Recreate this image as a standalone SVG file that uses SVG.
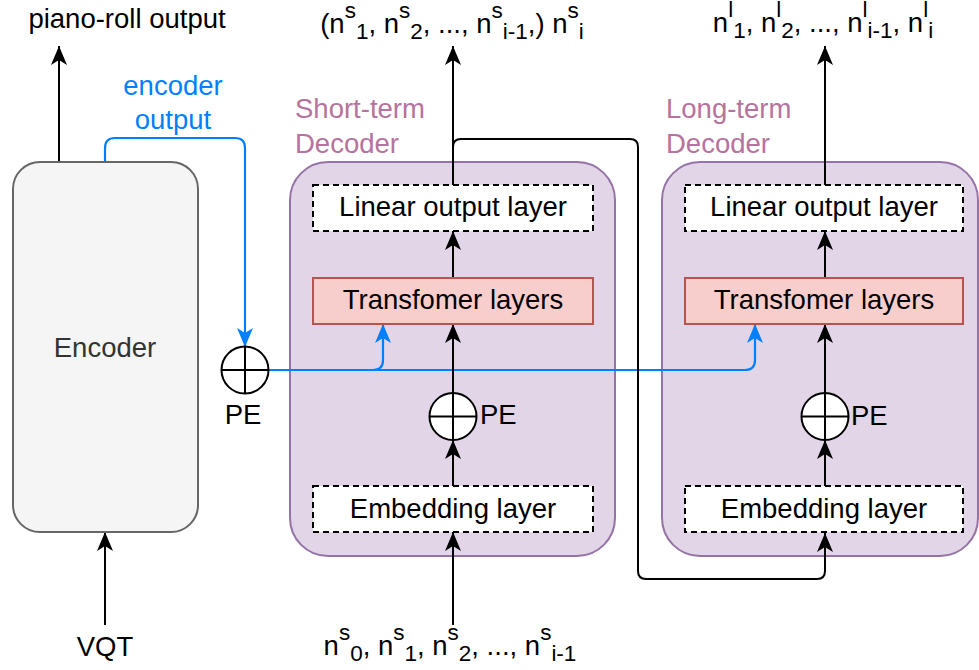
<svg xmlns="http://www.w3.org/2000/svg" width="979" height="670" viewBox="0 0 979 670">
  <style>
    text { font-family: "Liberation Sans", Arial, sans-serif; font-size: 27.5px; fill: #000; }
    .mid { text-anchor: middle; }
    .small { font-size: 22.5px; }
    .blue-t { fill: #007fff; }
    .grp-t { fill: #b5739d; }
    .enc-t { fill: #333333; }
    .wire { fill: none; stroke: #000; stroke-width: 2; }
    .wire-b { fill: none; stroke: #007fff; stroke-width: 2.2; }
    .container { fill: #e1d5e7; stroke: #9673a6; stroke-width: 2; }
    .layer { fill: #ffffff; stroke: #000; stroke-width: 2; stroke-dasharray: 6 4; }
    .trans { fill: #f8cecc; stroke: #b85450; stroke-width: 2; }
    .sum { fill: #ffffff; stroke: #000; stroke-width: 2; }
  </style>
  <defs>
    <marker id="arrow" markerUnits="userSpaceOnUse" viewBox="-20 -9 21 18" markerWidth="21" markerHeight="18" refX="0" refY="0" orient="auto">
      <path d="M0,0 L-19,-8 L-14,0 L-19,8 Z" fill="#000"/>
    </marker>
    <marker id="arrow-b" markerUnits="userSpaceOnUse" viewBox="-20 -9 21 18" markerWidth="21" markerHeight="18" refX="0" refY="0" orient="auto">
      <path d="M0,0 L-19,-8 L-14,0 L-19,8 Z" fill="#007fff"/>
    </marker>
  </defs>

  <!-- decoder containers -->
  <g id="short-term-decoder">
    <rect class="container" x="290" y="162" width="325" height="394" rx="38" ry="38"/>
    <text class="grp-t" x="295" y="118">Short-term</text>
    <text class="grp-t" x="295" y="153">Decoder</text>
  </g>
  <g id="long-term-decoder">
    <rect class="container" x="662" y="162" width="316" height="394" rx="38" ry="38"/>
    <text class="grp-t" x="666" y="118">Long-term</text>
    <text class="grp-t" x="666" y="153">Decoder</text>
  </g>

  <!-- connectors -->
  <g id="connectors">
    <path class="wire" d="M59,162 L59,46" marker-end="url(#arrow)"/>
    <path class="wire" d="M105,625 L105,532" marker-end="url(#arrow)"/>
    <path class="wire-b" d="M105,162 L105,148 Q105,138 115,138 L235,138 Q245,138 245,148 L245,347" marker-end="url(#arrow-b)"/>
    <path class="wire-b" d="M268,370 L373,370 Q383,370 383,360 L383,324" marker-end="url(#arrow-b)"/>
    <path class="wire-b" d="M373,370 L745,370 Q755,370 755,360 L755,324" marker-end="url(#arrow-b)"/>

    <!-- short-term path -->
    <path class="wire" d="M453,625 L453,532" marker-end="url(#arrow)"/>
    <path class="wire" d="M453,486 L453,440" marker-end="url(#arrow)"/>
    <path class="wire" d="M453,393 L453,324" marker-end="url(#arrow)"/>
    <path class="wire" d="M453,278 L453,231" marker-end="url(#arrow)"/>
    <path class="wire" d="M453,185 L453,46" marker-end="url(#arrow)"/>
    <path class="wire" d="M453,160 L453,147 Q453,139 461,139 L630,139 Q638,139 638,147 L638,571 Q638,579 646,579 L817,579 Q825,579 825,571 L825,533" marker-end="url(#arrow)"/>

    <!-- long-term path -->
    <path class="wire" d="M825,486 L825,440" marker-end="url(#arrow)"/>
    <path class="wire" d="M825,393 L825,324" marker-end="url(#arrow)"/>
    <path class="wire" d="M825,278 L825,231" marker-end="url(#arrow)"/>
    <path class="wire" d="M825,185 L825,46" marker-end="url(#arrow)"/>
  </g>

  <!-- encoder -->
  <g id="encoder">
    <rect x="13" y="162" width="185" height="370" rx="27" ry="27" fill="#f5f5f5" stroke="#666666" stroke-width="2"/>
    <text class="mid enc-t" x="105" y="357">Encoder</text>
  </g>

  <g id="pe-input">
    <circle class="sum" cx="245" cy="370" r="23.5"/>
    <path class="wire" d="M221.5,370 L268.5,370 M245,346.5 L245,393.5"/>
    <text class="mid" x="243" y="424">PE</text>
  </g>

  <!-- short-term decoder layers -->
  <g id="st-linear">
    <rect class="layer" x="313" y="185" width="280" height="46"/>
    <text class="mid" x="453" y="216">Linear output layer</text>
  </g>
  <g id="st-transformer">
    <rect class="trans" x="313" y="278" width="280" height="46"/>
    <text class="mid" x="453" y="309">Transfomer layers</text>
  </g>
  <g id="st-pe">
    <circle class="sum" cx="453" cy="416.5" r="23.5"/>
    <path class="wire" d="M429.5,416.5 L476.5,416.5 M453,393 L453,440"/>
    <text x="480" y="424">PE</text>
  </g>
  <g id="st-embedding">
    <rect class="layer" x="313" y="486" width="280" height="46"/>
    <text class="mid" x="453" y="518">Embedding layer</text>
  </g>

  <!-- long-term decoder layers -->
  <g id="lt-linear">
    <rect class="layer" x="685" y="185" width="278" height="46"/>
    <text class="mid" x="824" y="216">Linear output layer</text>
  </g>
  <g id="lt-transformer">
    <rect class="trans" x="685" y="278" width="278" height="46"/>
    <text class="mid" x="824" y="309">Transfomer layers</text>
  </g>
  <g id="lt-pe">
    <circle class="sum" cx="825" cy="416.5" r="23.5"/>
    <path class="wire" d="M801.5,416.5 L848.5,416.5 M825,393 L825,440"/>
    <text x="851" y="425">PE</text>
  </g>
  <g id="lt-embedding">
    <rect class="layer" x="685" y="486" width="278" height="46"/>
    <text class="mid" x="824" y="518">Embedding layer</text>
  </g>

  <!-- labels -->
  <g id="label-pianoroll">
    <text class="mid" x="127" y="28">piano-roll output</text>
  </g>
  <g id="label-encoder-output">
    <text class="mid blue-t" x="173" y="95">encoder</text>
    <text class="mid blue-t" x="173" y="129">output</text>
  </g>
  <g id="label-vqt">
    <text class="mid" x="105" y="656">VQT</text>
  </g>
  <g id="label-st-out">
    <text class="mid" x="452" y="33">(n<tspan class="small" dy="-15">s</tspan><tspan class="small" dy="21">1</tspan><tspan dy="-6">, n</tspan><tspan class="small" dy="-15">s</tspan><tspan class="small" dy="21">2</tspan><tspan dy="-6">, ..., n</tspan><tspan class="small" dy="-15">s</tspan><tspan class="small" dy="21">i-1</tspan><tspan dy="-6">,) n</tspan><tspan class="small" dy="-15">s</tspan><tspan class="small" dy="21">i</tspan></text>
  </g>
  <g id="label-lt-out">
    <text class="mid" x="823" y="32">n<tspan class="small" dy="-15">l</tspan><tspan class="small" dy="21">1</tspan><tspan dy="-6">, n</tspan><tspan class="small" dy="-15">l</tspan><tspan class="small" dy="21">2</tspan><tspan dy="-6">, ..., n</tspan><tspan class="small" dy="-15">l</tspan><tspan class="small" dy="21">i-1</tspan><tspan dy="-6">, n</tspan><tspan class="small" dy="-15">l</tspan><tspan class="small" dy="21">i</tspan></text>
  </g>
  <g id="label-st-in">
    <text class="mid" x="450" y="655">n<tspan class="small" dy="-15">s</tspan><tspan class="small" dy="21">0</tspan><tspan dy="-6">, n</tspan><tspan class="small" dy="-15">s</tspan><tspan class="small" dy="21">1</tspan><tspan dy="-6">, n</tspan><tspan class="small" dy="-15">s</tspan><tspan class="small" dy="21">2</tspan><tspan dy="-6">, ..., n</tspan><tspan class="small" dy="-15">s</tspan><tspan class="small" dy="21">i-1</tspan></text>
  </g>
</svg>
